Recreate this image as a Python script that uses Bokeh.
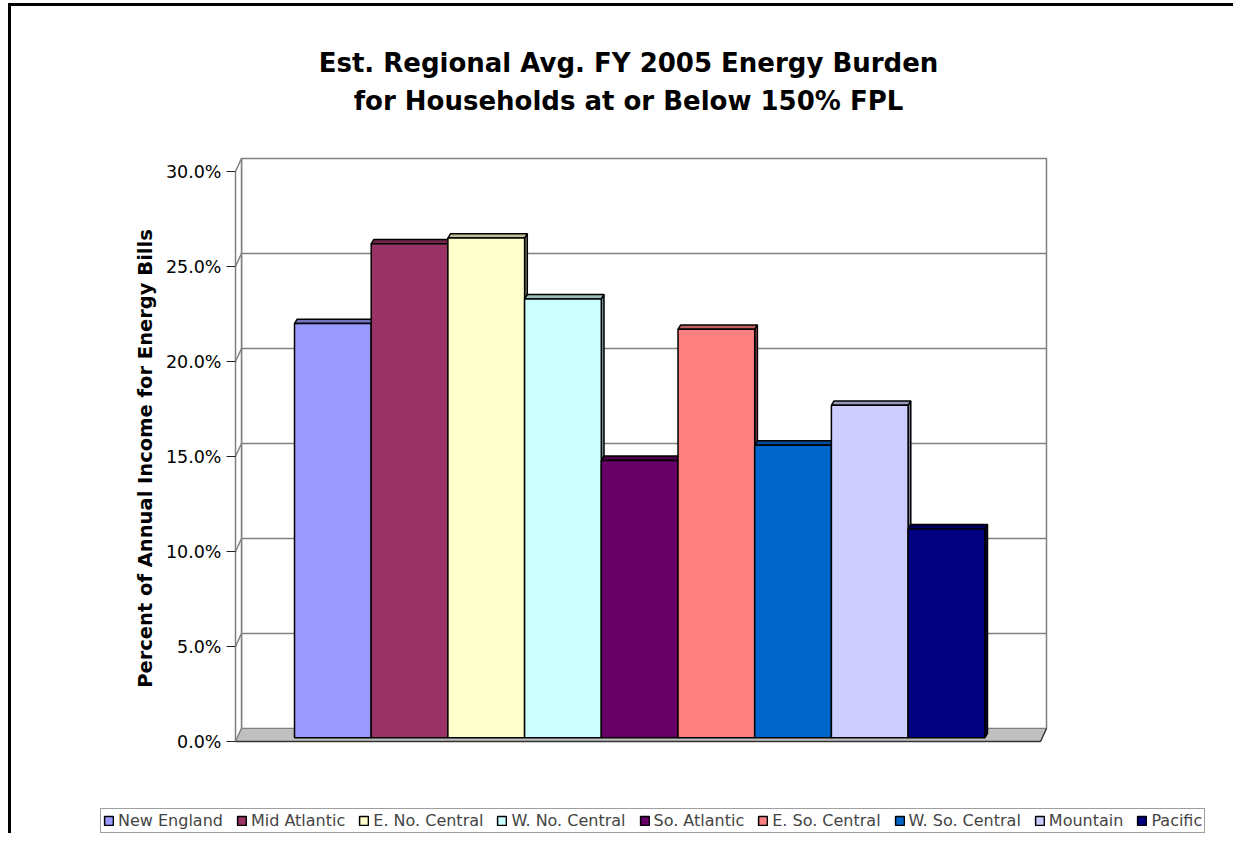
import math
from bokeh.plotting import figure
from bokeh.models import (FixedTicker, ColumnDataSource, Legend, LegendItem,
                          Label, Range1d, LinearAxis)
from bokeh.embed import file_html
from bokeh.resources import INLINE

# ---------------- data ----------------
regions = ["New England", "Mid Atlantic", "E. No. Central", "W. No. Central",
           "So. Atlantic", "E. So. Central", "W. So. Central", "Mountain", "Pacific"]
burden = [21.8, 26.0, 26.3, 23.1, 14.6, 21.5, 15.4, 17.5, 11.0]
colors = ["#9999FF", "#993366", "#FFFFCC", "#CCFFFF", "#660066",
          "#FF8080", "#0066CC", "#CCCCFF", "#000080"]
ticks = [0, 5, 10, 15, 20, 25, 30]
tick_labels = ["0.0%", "5.0%", "10.0%", "15.0%", "20.0%", "25.0%", "30.0%"]
title_lines = ["Est. Regional Avg. FY 2005 Energy Burden",
               "for Households at or Below 150% FPL"]
y_label = "Percent of Annual Income for Energy Bills"

# ---------------- geometry (canvas pixels) ----------------
W, H = 1233, 833
AX = 235                                   # canvas x of the value axis
PX_PCT = 19.0                              # pixels per 1 %
PX_BAR = 76.7                              # pixels per bar slot
Y0 = 741                                   # canvas y of 0 %
BAR0 = 294                                 # canvas x of first bar's left edge


def dx(px):
    return -0.5 + (px - BAR0) / PX_BAR


def dy(py):
    return (Y0 - py) / PX_PCT


def shade(c, f):
    r, g, b = int(c[1:3], 16), int(c[3:5], 16), int(c[5:7], 16)
    return "#%02x%02x%02x" % (int(r * f), int(g * f), int(b * f))


x_axis = dx(AX)
wdx = 6 / PX_BAR          # wall depth offset (x)
wdy = 13 / PX_PCT         # wall depth offset (y)
x_wl = x_axis + wdx
x_wr = dx(1046)
x_fr = x_wr - wdx
b0 = 3.7 / PX_PCT         # bars base level (mid-depth)
bdx = 2.7 / PX_BAR        # bar depth offset
bdy = 4.4 / PX_PCT

p = figure(width=W, height=H, output_backend="svg", toolbar_location=None,
           x_range=Range1d(dx(0), dx(W)), y_range=Range1d(dy(H), dy(0)),
           x_axis_location=None, y_axis_location=None, title=None,
           min_border_left=0, min_border_right=0,
           min_border_top=0, min_border_bottom=0,
           outline_line_color=None, background_fill_color="white",
           border_fill_color="white")
p.xgrid.visible = False
p.ygrid.visible = False

# outer border (left and top edges)
p.quad(left=[dx(7.5)], right=[dx(10.5)], bottom=[dy(H)], top=[dy(2.5)],
       fill_color="black", line_color=None)
p.quad(left=[dx(7.5)], right=[dx(W)], bottom=[dy(5.5)], top=[dy(2.5)],
       fill_color="black", line_color=None)

# back wall
p.quad(left=[x_wl], right=[x_wr], bottom=[wdy], top=[30 + wdy],
       fill_color="white", line_color="#808080", line_width=1.5)
grid_v = [t for t in ticks if 0 < t < 30]
p.segment(x0=[x_wl] * len(grid_v), x1=[x_wr] * len(grid_v),
          y0=[v + wdy for v in grid_v], y1=[v + wdy for v in grid_v],
          line_color="#808080", line_width=1.5)
# side wall
p.patch(x=[x_axis, x_axis, x_wl, x_wl], y=[0, 30, 30 + wdy, wdy],
        fill_color="white", line_color=None)
p.segment(x0=[x_axis] * len(ticks), x1=[x_wl] * len(ticks),
          y0=ticks, y1=[v + wdy for v in ticks],
          line_color="#808080", line_width=1.5)
p.segment(x0=[x_wl], x1=[x_wl], y0=[wdy], y1=[30 + wdy],
          line_color="#808080", line_width=1.5)
# floor
p.patch(x=[x_axis, x_fr, x_wr, x_wl], y=[0, 0, wdy, wdy],
        fill_color="#C0C0C0", line_color="#808080", line_width=1.2)
p.segment(x0=[x_axis], x1=[x_fr], y0=[0], y1=[0],
          line_color="#333333", line_width=1.5)
p.segment(x0=[x_fr], x1=[x_wr], y0=[0], y1=[wdy],
          line_color="#333333", line_width=1.2)

# bars
n = len(burden)
xs_idx = list(range(n))
side_xs, side_ys, top_xs, top_ys = [], [], [], []
for i, v in zip(xs_idx, burden):
    t = b0 + v
    side_xs.append([i + 0.5, i + 0.5, i + 0.5 + bdx, i + 0.5 + bdx])
    side_ys.append([b0, t, t + bdy, b0 + bdy])
    top_xs.append([i - 0.5, i + 0.5, i + 0.5 + bdx, i - 0.5 + bdx])
    top_ys.append([t, t, t + bdy, t + bdy])

p.patches(xs=side_xs, ys=side_ys, fill_color=[shade(c, 0.6) for c in colors],
          line_color="black", line_width=1.5)
p.patches(xs=top_xs, ys=top_ys, fill_color=[shade(c, 0.75) for c in colors],
          line_color="black", line_width=1.5)
src = ColumnDataSource(dict(
    left=[i - 0.5 for i in xs_idx], right=[i + 0.5 for i in xs_idx],
    bottom=[b0] * n, top=[b0 + v for v in burden],
    color=colors, region=regions))
front = p.quad(left="left", right="right", bottom="bottom", top="top",
               fill_color="color", line_color="black", line_width=1.5,
               source=src)

# y axis (fixed inside the frame)
ax = LinearAxis(fixed_location=x_axis)
ax.ticker = FixedTicker(ticks=ticks, minor_ticks=[])
ax.major_label_overrides = {t: lab for t, lab in zip(ticks, tick_labels)}
ax.bounds = (0, 30)
ax.axis_line_color = "#808080"
ax.axis_line_width = 1.5
ax.major_tick_out = 9
ax.major_tick_in = 0
ax.major_tick_line_color = "#222222"
ax.major_tick_line_width = 1.2
ax.minor_tick_out = 0
ax.major_label_standoff = 5
ax.major_label_text_font = "DejaVu Sans"
ax.major_label_text_font_size = "17.5px"
ax.major_label_text_color = "black"
p.add_layout(ax, "left")

# titles
for line, base in zip(title_lines, [62, 100]):
    p.add_layout(Label(x=dx(628), y=dy(base), text=line, text_align="center",
                       text_baseline="alphabetic", text_font="DejaVu Sans",
                       text_font_style="bold", text_font_size="26px",
                       text_color="black"))
p.add_layout(Label(x=dx(145), y=dy(458), text=y_label, angle=math.pi / 2,
                   text_align="center", text_baseline="middle",
                   text_font="DejaVu Sans", text_font_style="bold",
                   text_font_size="19.5px", text_color="black"))

# legend
items = [LegendItem(label=r, renderers=[front], index=i)
         for i, r in enumerate(regions)]
legend = Legend(items=items, location=(100, 0),
                orientation="horizontal", glyph_width=11, glyph_height=11,
                label_standoff=4, spacing=13, padding=2, margin=0,
                label_text_font="DejaVu Sans", label_text_font_size="16px",
                label_height=18, border_line_color="#404040",
                border_line_width=1, background_fill_color="white",
                background_fill_alpha=1.0)
p.add_layout(legend)

open("out.html", "w").write(file_html(p, INLINE))
